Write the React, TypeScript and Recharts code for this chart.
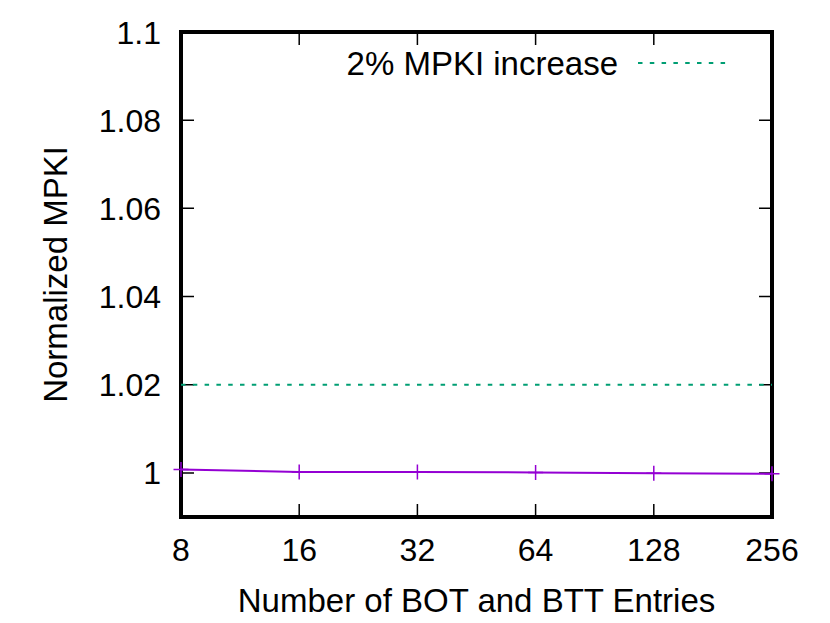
import React from "react";
import { LineChart, Line, XAxis, YAxis, Legend, ReferenceArea, ReferenceLine } from "recharts";

// ---- data ----
const entries = [8, 16, 32, 64, 128, 256];
const normalizedMpki = [1.0008, 1.0002, 1.0002, 1.0001, 0.9999, 0.9998];
const thresholdSeries = [1.02, 1.02, 1.02, 1.02, 1.02, 1.02];
const xTicks = [8, 16, 32, 64, 128, 256];
const yTicks = [1, 1.02, 1.04, 1.06, 1.08, 1.1];
const xDomain = [8, 256];
const yDomain = [0.99, 1.1];
const legendLabel = "2% MPKI increase";
const xTitle = "Number of BOT and BTT Entries";
const yTitle = "Normalized MPKI";

const data = entries.map((e, i) => ({
  entries: e,
  mpki: normalizedMpki[i],
  limit: thresholdSeries[i],
}));

const FONT = '"Liberation Sans", Arial, Helvetica, sans-serif';
const PURPLE = "#9400d3";
const GREEN = "#009e73";
const TICK_LEN = 13;

const LeftTick = (p: any) => (
  <text x={p.x - 20} y={p.y} dy="0.36em" textAnchor="end" fontSize={32} fontFamily={FONT} fill="#000">
    {String(p.payload.value)}
  </text>
);
const BottomTick = (p: any) => (
  <text x={p.x} y={p.y + 44} textAnchor="middle" fontSize={32} fontFamily={FONT} fill="#000">
    {String(p.payload.value)}
  </text>
);

// inward tick marks at both ends of a reference segment (mirror ticks)
const VTickPair = (p: any) => {
  const top = Math.min(p.y1, p.y2);
  const bot = Math.max(p.y1, p.y2);
  return (
    <path d={`M${p.x1},${top}v${TICK_LEN}M${p.x1},${bot}v${-TICK_LEN}`} stroke="#000" strokeWidth={1.5} fill="none" />
  );
};
const HTickPair = (p: any) => {
  const l = Math.min(p.x1, p.x2);
  const r = Math.max(p.x1, p.x2);
  return (
    <path d={`M${l},${p.y1}h${TICK_LEN}M${r},${p.y1}h${-TICK_LEN}`} stroke="#000" strokeWidth={1.5} fill="none" />
  );
};

const PlusDot = (p: any) => {
  const { cx, cy, index } = p;
  if (cx == null || cy == null) return <g key={`d-${index}`} />;
  return (
    <path
      key={`d-${index}`}
      d={`M${cx - 7.5},${cy}h15M${cx},${cy - 7.5}v15`}
      stroke={PURPLE}
      strokeWidth={1.5}
      fill="none"
    />
  );
};

const LegendBox = () => (
  <svg width={822} height={90} style={{ display: "block" }}>
    <text x={610} y={67} textAnchor="end" fontSize={33} fontFamily={FONT} fill="#000">
      {legendLabel}
    </text>
    <line x1={630} x2={718} y1={55} y2={55} stroke={GREEN} strokeWidth={2} strokeDasharray="4.5 7.3" />
  </svg>
);

export default function App() {
  return (
    <LineChart
      width={822}
      height={610}
      data={data}
      margin={{ top: 24, right: 58, left: 0, bottom: 0 }}
      style={{ fontFamily: FONT }}
    >
      <XAxis
        dataKey="entries"
        type="number"
        scale="log"
        domain={xDomain}
        ticks={xTicks}
        height={101}
        tickSize={0}
        tickMargin={0}
        tickLine={false}
        axisLine={false}
        tick={BottomTick}
        interval={0}
        label={{
          content: (lp: any) => {
            const vb = lp.viewBox;
            return (
              <text x={vb.x + vb.width / 2} y={vb.y + 95} textAnchor="middle" fontSize={33} fontFamily={FONT} fill="#000">
                {xTitle}
              </text>
            );
          },
        }}
      />
      <YAxis
        type="number"
        domain={yDomain}
        ticks={yTicks}
        width={173}
        tickSize={0}
        tickMargin={0}
        tickLine={false}
        axisLine={false}
        tick={LeftTick}
        interval={0}
        allowDataOverflow
        label={{
          content: (lp: any) => {
            const vb = lp.viewBox;
            const cx = vb.x + 59;
            const cy = vb.y + vb.height / 2;
            return (
              <text x={cx} y={cy} transform={`rotate(-90 ${cx} ${cy})`} textAnchor="middle" fontSize={33} fontFamily={FONT} fill="#000">
                {yTitle}
              </text>
            );
          },
        }}
      />
      {xTicks.map((t) => (
        <ReferenceLine key={`vx-${t}`} x={t} stroke="none" shape={VTickPair} />
      ))}
      {yTicks.map((t) => (
        <ReferenceLine key={`hy-${t}`} y={t} stroke="none" shape={HTickPair} />
      ))}
      <Line
        dataKey="limit"
        type="linear"
        stroke={GREEN}
        strokeWidth={2}
        strokeDasharray="4.5 7.3"
        dot={false}
        activeDot={false}
        name={legendLabel}
        isAnimationActive={false}
      />
      <Line
        dataKey="mpki"
        type="linear"
        stroke={PURPLE}
        strokeWidth={2}
        dot={PlusDot}
        activeDot={false}
        legendType="none"
        isAnimationActive={false}
      />
      <ReferenceArea
        x1={xDomain[0]}
        x2={xDomain[1]}
        y1={yDomain[0]}
        y2={yDomain[1]}
        fill="none"
        fillOpacity={0}
        stroke="#000"
        strokeWidth={4}
        ifOverflow="visible"
      />
      <Legend
        layout="vertical"
        align="center"
        verticalAlign="middle"
        content={LegendBox}
        wrapperStyle={{ position: "absolute", left: 0, top: 0, width: 822, height: 90, margin: 0, padding: 0 }}
      />
    </LineChart>
  );
}
